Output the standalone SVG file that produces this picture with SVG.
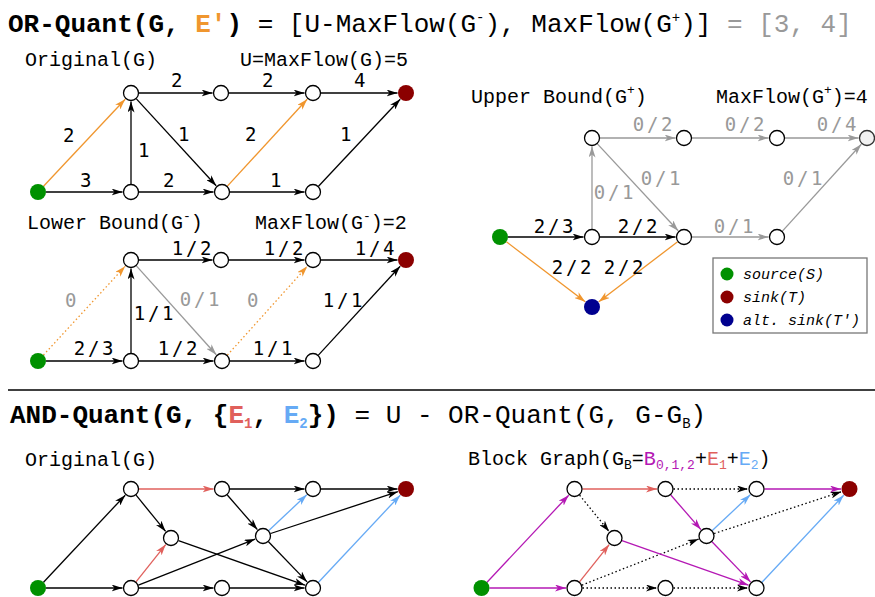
<svg xmlns="http://www.w3.org/2000/svg" width="875" height="597" viewBox="0 0 875 597">
<style>
.n{fill:#fff;stroke:#000;stroke-width:1.3}
.src{fill:#009100}
.snk{fill:#8b0000}
.alt{fill:#00008f}
.gn{fill:#f2f2f2;stroke:#333;stroke-width:1.3}
line{fill:none;stroke-width:1.3}
.k{stroke:#000;marker-end:url(#ak)}
.g{stroke:#999;marker-end:url(#ag)}
.o{stroke:#f0962e;marker-end:url(#ao)}
.r{stroke:#e0605c;marker-end:url(#ar)}
.b{stroke:#66aaf5;marker-end:url(#ab)}
.m{stroke:#b418b4;marker-end:url(#am)}
.d{stroke-dasharray:1.5 2.5}
.lbl{font-family:"DejaVu Sans Mono",monospace;font-size:19px;letter-spacing:2.8px;text-anchor:middle;fill:#000}
.lg{fill:#999}
.hd{font-family:"Liberation Mono",monospace;font-size:20px;fill:#000}
.ttl{font-family:"Liberation Mono",monospace;font-size:26px;fill:#000}
.leg{font-family:"Liberation Mono",monospace;font-size:15px;font-style:italic;fill:#000}
</style>
<defs>
<marker id="ak" viewBox="0 0 11 7" markerWidth="11" markerHeight="7" refX="11" refY="3.5" orient="auto" markerUnits="userSpaceOnUse"><path d="M0,0 L11,3.5 L0,7 L3,3.5 Z" fill="#000"/></marker>
<marker id="ag" viewBox="0 0 11 7" markerWidth="11" markerHeight="7" refX="11" refY="3.5" orient="auto" markerUnits="userSpaceOnUse"><path d="M0,0 L11,3.5 L0,7 L3,3.5 Z" fill="#999"/></marker>
<marker id="ao" viewBox="0 0 11 7" markerWidth="11" markerHeight="7" refX="11" refY="3.5" orient="auto" markerUnits="userSpaceOnUse"><path d="M0,0 L11,3.5 L0,7 L3,3.5 Z" fill="#f0962e"/></marker>
<marker id="ar" viewBox="0 0 11 7" markerWidth="11" markerHeight="7" refX="11" refY="3.5" orient="auto" markerUnits="userSpaceOnUse"><path d="M0,0 L11,3.5 L0,7 L3,3.5 Z" fill="#e0605c"/></marker>
<marker id="ab" viewBox="0 0 11 7" markerWidth="11" markerHeight="7" refX="11" refY="3.5" orient="auto" markerUnits="userSpaceOnUse"><path d="M0,0 L11,3.5 L0,7 L3,3.5 Z" fill="#66aaf5"/></marker>
<marker id="am" viewBox="0 0 11 7" markerWidth="11" markerHeight="7" refX="11" refY="3.5" orient="auto" markerUnits="userSpaceOnUse"><path d="M0,0 L11,3.5 L0,7 L3,3.5 Z" fill="#b418b4"/></marker>
</defs>

<!-- Titles -->
<text class="ttl" x="8" y="32" xml:space="preserve"><tspan font-weight="bold">OR-Quant(G, </tspan><tspan font-weight="bold" fill="#f0962e">E'</tspan><tspan font-weight="bold">)</tspan><tspan> = [U-MaxFlow(G</tspan><tspan font-size="14" dy="-10">-</tspan><tspan dy="10">), MaxFlow(G</tspan><tspan font-size="14" dy="-10">+</tspan><tspan dy="10">)]</tspan><tspan fill="#999"> = [3, 4]</tspan></text>
<line x1="8" y1="390" x2="875" y2="390" stroke="#000" stroke-width="1.5"/>
<text class="ttl" x="10" y="423" xml:space="preserve"><tspan font-weight="bold">AND-Quant(G, {</tspan><tspan font-weight="bold" fill="#e0605c">E</tspan><tspan font-weight="bold" font-size="14" dy="5" fill="#e0605c">1</tspan><tspan font-weight="bold" dy="-5">, </tspan><tspan font-weight="bold" fill="#66aaf5">E</tspan><tspan font-weight="bold" font-size="14" dy="5" fill="#66aaf5">2</tspan><tspan font-weight="bold" dy="-5">})</tspan><tspan> = U - OR-Quant(G, G-G</tspan><tspan font-size="14" dy="5">B</tspan><tspan dy="-5">)</tspan></text>

<!-- Headings -->
<text class="hd" x="25" y="66">Original(G)</text>
<text class="hd" x="240" y="66">U=MaxFlow(G)=5</text>
<text class="hd" x="27" y="229" xml:space="preserve">Lower Bound(G<tspan font-size="13" dy="-9">-</tspan><tspan dy="9">)</tspan></text>
<text class="hd" x="255" y="229" xml:space="preserve">MaxFlow(G<tspan font-size="13" dy="-9">-</tspan><tspan dy="9">)=2</tspan></text>
<text class="hd" x="471" y="103" xml:space="preserve">Upper Bound(G<tspan font-size="13" dy="-9">+</tspan><tspan dy="9">)</tspan></text>
<text class="hd" x="716" y="103" xml:space="preserve">MaxFlow(G<tspan font-size="13" dy="-9">+</tspan><tspan dy="9">)=4</tspan></text>
<text class="hd" x="25" y="466">Original(G)</text>
<text class="hd" x="468" y="465" xml:space="preserve">Block Graph(G<tspan font-size="13" dy="4">B</tspan><tspan dy="-4">=</tspan><tspan fill="#b418b4">B</tspan><tspan font-size="13" dy="4" fill="#b418b4">0,1,2</tspan><tspan dy="-4">+</tspan><tspan fill="#e0605c">E</tspan><tspan font-size="13" dy="4" fill="#e0605c">1</tspan><tspan dy="-4">+</tspan><tspan fill="#66aaf5">E</tspan><tspan font-size="13" dy="4" fill="#66aaf5">2</tspan><tspan dy="-4">)</tspan></text>

<!-- Connectors -->
<g id="connectors">
 <g id="c-orig">
  <line class="o" x1="43.5" y1="186.2" x2="125.2" y2="99.2"/>
  <line class="k" x1="46" y1="192" x2="122.5" y2="192"/>
  <line class="k" x1="131" y1="184" x2="131" y2="101.5"/>
  <line class="k" x1="139" y1="93" x2="212.5" y2="93"/>
  <line class="k" x1="136.4" y1="98.9" x2="216.2" y2="185.7"/>
  <line class="k" x1="139" y1="192" x2="213.5" y2="192"/>
  <line class="k" x1="229" y1="93" x2="304.5" y2="93"/>
  <line class="o" x1="227.4" y1="186.1" x2="307.2" y2="99.3"/>
  <line class="k" x1="230" y1="192" x2="304.5" y2="192"/>
  <line class="k" x1="321" y1="93" x2="397.5" y2="93"/>
  <line class="k" x1="318.5" y1="186.2" x2="400.2" y2="99.2"/>
 </g>
 <g id="c-lower">
  <line class="o d" x1="43.4" y1="355.1" x2="125.2" y2="266.3"/>
  <line class="k" x1="46" y1="361" x2="122.5" y2="361"/>
  <line class="k" x1="131" y1="353" x2="131" y2="268.5"/>
  <line class="k" x1="139" y1="260" x2="212.5" y2="260"/>
  <line class="g" x1="136.4" y1="265.9" x2="216.3" y2="354.7"/>
  <line class="k" x1="139" y1="361" x2="213.5" y2="361"/>
  <line class="k" x1="229" y1="260" x2="304.5" y2="260"/>
  <line class="o d" x1="227.4" y1="355.1" x2="307.3" y2="266.3"/>
  <line class="k" x1="230" y1="361" x2="304.5" y2="361"/>
  <line class="k" x1="321" y1="260" x2="397.5" y2="260"/>
  <line class="k" x1="318.4" y1="355.1" x2="400.2" y2="266.3"/>
 </g>
 <g id="c-upper">
  <line class="k" x1="508" y1="237" x2="583.5" y2="237"/>
  <line class="k" x1="600" y1="237" x2="675.5" y2="237"/>
  <line class="o" x1="506.4" y1="241.8" x2="585.2" y2="301.8"/>
  <line class="o" x1="677.6" y1="241.8" x2="598.8" y2="301.8"/>
  <line class="g" x1="592" y1="229" x2="592" y2="146.5"/>
  <line class="g" x1="597.4" y1="143.9" x2="678.2" y2="230.8"/>
  <line class="g" x1="600" y1="138" x2="675.5" y2="138"/>
  <line class="g" x1="692" y1="138" x2="768.5" y2="138"/>
  <line class="g" x1="785" y1="138" x2="858.5" y2="138"/>
  <line class="g" x1="692" y1="237" x2="768.5" y2="237"/>
  <line class="g" x1="782.4" y1="231.1" x2="861.3" y2="144.3"/>
 </g>
 <g id="c-and">
  <line class="k" x1="43.5" y1="582.2" x2="125.2" y2="495.2"/>
  <line class="k" x1="46" y1="588" x2="122.5" y2="588"/>
  <line class="r" x1="139" y1="489" x2="213.5" y2="489"/>
  <line class="k" x1="136.1" y1="495.2" x2="165.6" y2="531.4"/>
  <line class="r" x1="136" y1="581.8" x2="165.7" y2="544.6"/>
  <line class="k" x1="138.4" y1="585.1" x2="255.1" y2="539.1"/>
  <line class="k" x1="139" y1="588" x2="213.5" y2="588"/>
  <line class="k" x1="230" y1="489" x2="304.5" y2="489"/>
  <line class="k" x1="227.3" y1="495" x2="257.4" y2="529.6"/>
  <line class="k" x1="178.5" y1="540.7" x2="305" y2="585.2"/>
  <line class="b" x1="268.8" y1="530.5" x2="306.8" y2="494.8"/>
  <line class="k" x1="270.6" y1="533.5" x2="397.9" y2="491.7"/>
  <line class="k" x1="268.5" y1="541.8" x2="307.1" y2="581.9"/>
  <line class="k" x1="230" y1="588" x2="304.5" y2="588"/>
  <line class="k" x1="321" y1="489" x2="397.5" y2="489"/>
  <line class="b" x1="318.5" y1="582.2" x2="400.2" y2="495.2"/>
 </g>
 <g id="c-block" transform="translate(443.5,0)">
  <line class="m" x1="43.5" y1="582.2" x2="125.2" y2="495.2"/>
  <line class="m" x1="46" y1="588" x2="122.5" y2="588"/>
  <line class="r" x1="139" y1="489" x2="213.5" y2="489"/>
  <line class="k d" x1="136.1" y1="495.2" x2="165.6" y2="531.4"/>
  <line class="r" x1="136" y1="581.8" x2="165.7" y2="544.6"/>
  <line class="k d" x1="138.4" y1="585.1" x2="255.1" y2="539.1"/>
  <line class="k d" x1="139" y1="588" x2="213.5" y2="588"/>
  <line class="k d" x1="230" y1="489" x2="304.5" y2="489"/>
  <line class="m" x1="227.3" y1="495" x2="257.4" y2="529.6"/>
  <line class="m" x1="178.5" y1="540.7" x2="305" y2="585.2"/>
  <line class="b" x1="268.8" y1="530.5" x2="306.8" y2="494.8"/>
  <line class="k d" x1="270.6" y1="533.5" x2="397.9" y2="491.7"/>
  <line class="m" x1="268.5" y1="541.8" x2="307.1" y2="581.9"/>
  <line class="k d" x1="230" y1="588" x2="304.5" y2="588"/>
  <line class="m" x1="321" y1="489" x2="397.5" y2="489"/>
  <line class="b" x1="318.5" y1="582.2" x2="400.2" y2="495.2"/>
 </g>
</g>

<!-- Edge labels -->
<g id="edge-labels" class="lbl">
 <text x="70" y="142">2</text>
 <text x="87" y="187">3</text>
 <text x="145" y="157">1</text>
 <text x="178" y="87">2</text>
 <text x="185" y="141">1</text>
 <text x="170" y="187">2</text>
 <text x="269" y="87">2</text>
 <text x="252" y="141">2</text>
 <text x="277" y="187">1</text>
 <text x="361" y="87">4</text>
 <text x="347" y="141">1</text>

 <text class="lg" x="72" y="307">0</text>
 <text x="95" y="355">2/3</text>
 <text x="155" y="320">1/1</text>
 <text x="193" y="255">1/2</text>
 <text class="lg" x="201" y="306">0/1</text>
 <text x="179" y="355">1/2</text>
 <text x="285" y="255">1/2</text>
 <text class="lg" x="254" y="307">0</text>
 <text x="274" y="355">1/1</text>
 <text x="376" y="255">1/4</text>
 <text x="344" y="307">1/1</text>

 <text x="555" y="233">2/3</text>
 <text x="639" y="233">2/2</text>
 <text x="573" y="274">2/2</text>
 <text x="625" y="274">2/2</text>
 <text class="lg" x="615" y="199">0/1</text>
 <text class="lg" x="662" y="185">0/1</text>
 <text class="lg" x="654" y="131">0/2</text>
 <text class="lg" x="746" y="131">0/2</text>
 <text class="lg" x="838" y="131">0/4</text>
 <text class="lg" x="735" y="233">0/1</text>
 <text class="lg" x="804" y="185">0/1</text>
</g>

<!-- Nodes: Original(G) -->
<g id="o-S"><circle class="src" cx="38" cy="192" r="8"/></g>
<g id="o-A"><circle class="n" cx="131" cy="93" r="7.5"/></g>
<g id="o-B"><circle class="n" cx="221" cy="93" r="7.5"/></g>
<g id="o-C"><circle class="n" cx="313" cy="93" r="7.5"/></g>
<g id="o-T"><circle class="snk" cx="406" cy="93" r="8"/></g>
<g id="o-D"><circle class="n" cx="131" cy="192" r="7.5"/></g>
<g id="o-E"><circle class="n" cx="222" cy="192" r="7.5"/></g>
<g id="o-F"><circle class="n" cx="313" cy="192" r="7.5"/></g>

<!-- Nodes: Lower bound -->
<g id="l-S"><circle class="src" cx="38" cy="361" r="8"/></g>
<g id="l-A"><circle class="n" cx="131" cy="260" r="7.5"/></g>
<g id="l-B"><circle class="n" cx="221" cy="260" r="7.5"/></g>
<g id="l-C"><circle class="n" cx="313" cy="260" r="7.5"/></g>
<g id="l-T"><circle class="snk" cx="406" cy="260" r="8"/></g>
<g id="l-D"><circle class="n" cx="131" cy="361" r="7.5"/></g>
<g id="l-E"><circle class="n" cx="222" cy="361" r="7.5"/></g>
<g id="l-F"><circle class="n" cx="313" cy="361" r="7.5"/></g>

<!-- Nodes: Upper bound -->
<g id="u-S"><circle class="src" cx="500" cy="237" r="8"/></g>
<g id="u-A"><circle class="n" cx="592" cy="138" r="7.5"/></g>
<g id="u-B"><circle class="n" cx="684" cy="138" r="7.5"/></g>
<g id="u-C"><circle class="n" cx="777" cy="138" r="7.5"/></g>
<g id="u-T"><circle class="gn" cx="867" cy="138" r="7.5"/></g>
<g id="u-D"><circle class="n" cx="592" cy="237" r="7.5"/></g>
<g id="u-E"><circle class="n" cx="684" cy="237" r="7.5"/></g>
<g id="u-F"><circle class="n" cx="777" cy="237" r="7.5"/></g>
<g id="u-T2"><circle class="alt" cx="592" cy="307" r="8"/></g>

<!-- Legend -->
<g id="legend">
 <rect x="713" y="258" width="154" height="75" fill="#fff" stroke="#777" stroke-width="1.3"/>
 <circle class="src" cx="727" cy="274" r="6.5"/>
 <circle class="snk" cx="727" cy="297" r="6.5"/>
 <circle class="alt" cx="727" cy="320" r="6.5"/>
 <text class="leg" x="743" y="278.5">source(S)</text>
 <text class="leg" x="743" y="301.5">sink(T)</text>
 <text class="leg" x="743" y="324.5">alt. sink(T')</text>
</g>

<!-- Nodes: AND original -->
<g id="a-S"><circle class="src" cx="38" cy="588" r="8"/></g>
<g id="a-A"><circle class="n" cx="131" cy="489" r="7.5"/></g>
<g id="a-B"><circle class="n" cx="222" cy="489" r="7.5"/></g>
<g id="a-C"><circle class="n" cx="313" cy="489" r="7.5"/></g>
<g id="a-T"><circle class="snk" cx="406" cy="489" r="8"/></g>
<g id="a-M1"><circle class="n" cx="171" cy="538" r="7.5"/></g>
<g id="a-M2"><circle class="n" cx="263" cy="536" r="7.5"/></g>
<g id="a-D"><circle class="n" cx="131" cy="588" r="7.5"/></g>
<g id="a-E"><circle class="n" cx="222" cy="588" r="7.5"/></g>
<g id="a-F"><circle class="n" cx="313" cy="588" r="7.5"/></g>

<!-- Nodes: Block graph -->
<g transform="translate(443.5,0)">
<g id="b-S"><circle class="src" cx="38" cy="588" r="8"/></g>
<g id="b-A"><circle class="n" cx="131" cy="489" r="7.5"/></g>
<g id="b-B"><circle class="n" cx="222" cy="489" r="7.5"/></g>
<g id="b-C"><circle class="n" cx="313" cy="489" r="7.5"/></g>
<g id="b-T"><circle class="snk" cx="406" cy="489" r="8"/></g>
<g id="b-M1"><circle class="n" cx="171" cy="538" r="7.5"/></g>
<g id="b-M2"><circle class="n" cx="263" cy="536" r="7.5"/></g>
<g id="b-D"><circle class="n" cx="131" cy="588" r="7.5"/></g>
<g id="b-E"><circle class="n" cx="222" cy="588" r="7.5"/></g>
<g id="b-F"><circle class="n" cx="313" cy="588" r="7.5"/></g>
</g>
</svg>
